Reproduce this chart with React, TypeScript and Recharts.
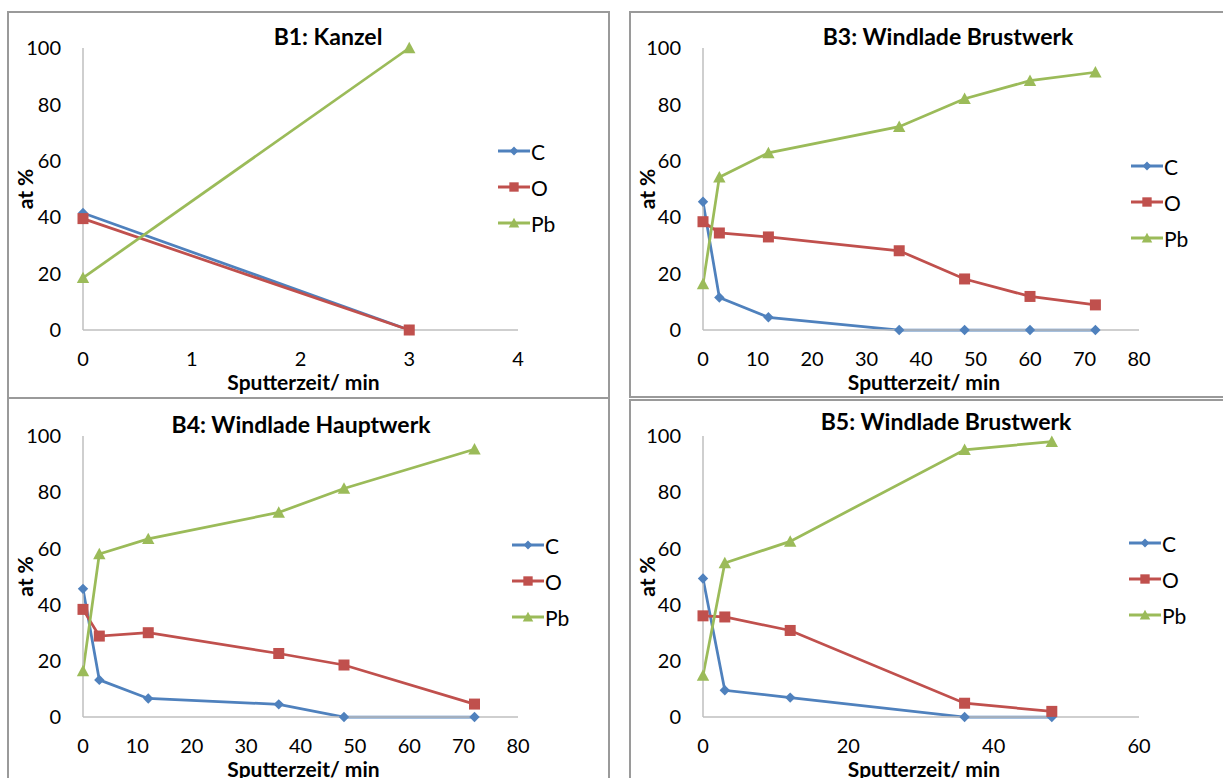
import React from 'react'
import { LineChart, Line, XAxis, YAxis, Legend } from 'recharts'

// B1: Kanzel
const b1Time = [0, 3]
const b1C = [41.5, 0]
const b1O = [39.5, 0]
const b1Pb = [18.5, 100]

// B3: Windlade Brustwerk
const b3Time = [0, 3, 12, 36, 48, 60, 72]
const b3C = [45.5, 11.5, 4.5, 0, 0, 0, 0]
const b3O = [38.4, 34.4, 33, 28.1, 18.1, 11.9, 8.9]
const b3Pb = [16.3, 54.2, 62.8, 72.1, 82, 88.4, 91.4]

// B4: Windlade Hauptwerk
const b4Time = [0, 3, 12, 36, 48, 72]
const b4C = [45.6, 13.2, 6.6, 4.5, 0, 0]
const b4O = [38.3, 28.8, 30, 22.6, 18.5, 4.6]
const b4Pb = [16.4, 58, 63.4, 72.8, 81.3, 95.3]

// B5: Windlade Brustwerk
const b5Time = [0, 3, 12, 36, 48]
const b5C = [49.3, 9.5, 6.9, 0, 0]
const b5O = [36, 35.6, 30.8, 4.9, 2]
const b5Pb = [14.8, 54.8, 62.5, 95.1, 98]

const yTicks = [0, 20, 40, 60, 80, 100]
const xTicks4 = [0, 1, 2, 3, 4]
const xTicks80 = [0, 10, 20, 30, 40, 50, 60, 70, 80]
const xTicks60 = [0, 20, 40, 60]

const colors: Record<string, string> = { C: '#4F81BD', O: '#C0504D', Pb: '#9BBB59' }
const font = 'Lato, "Open Sans", sans-serif'
const axisGray = '#bfbfbf'

function Marker({ kind, cx, cy, s = 1 }: { kind: string; cx: number; cy: number; s?: number }) {
  const fill = colors[kind]
  if (kind === 'C') {
    const r = 5.2 * s
    return <path d={`M${cx},${cy - r}L${cx + r},${cy}L${cx},${cy + r}L${cx - r},${cy}Z`} fill={fill} />
  }
  if (kind === 'O') {
    const h = 5.5 * s
    return <rect x={cx - h} y={cy - h} width={h * 2} height={h * 2} fill={fill} />
  }
  const h = 6.2 * s
  return <path d={`M${cx},${cy - h}L${cx + h},${cy + h * 0.85}L${cx - h},${cy + h * 0.85}Z`} fill={fill} />
}

function LegendBox({ payload }: any) {
  return (
    <div style={{ fontFamily: font, fontSize: 21, color: '#000' }}>
      {(payload || []).map((p: any) => (
        <div key={p.value} style={{ display: 'flex', alignItems: 'center', height: 36 }}>
          <svg width={32} height={16}>
            <line x1={0} y1={8} x2={32} y2={8} stroke={colors[p.value]} strokeWidth={3} />
            <Marker kind={p.value} cx={16} cy={8} s={0.85} />
          </svg>
          <span style={{ marginLeft: 1 }}>{p.value}</span>
        </div>
      ))}
    </div>
  )
}

interface PanelProps {
  title: string
  time: number[]
  c: number[]
  o: number[]
  pb: number[]
  xMax: number
  xTicks: number[]
  left: number
  top: number
  width: number
  height: number
  yAxisWidth: number
  margin: { top: number; right: number; bottom: number; left: number }
  legendPos: { left: number; top: number }
  titlePos: { x: number; y: number }
}

function Panel(p: PanelProps) {
  const data = p.time.map((t, i) => ({ t, C: p.c[i], O: p.o[i], Pb: p.pb[i] }))
  const tick = { fontSize: 20, fill: '#000', fontFamily: font }
  return (
    <>
      <div
        style={{
          position: 'absolute',
          left: p.titlePos.x - 250,
          top: p.titlePos.y - 14,
          width: 500,
          textAlign: 'center',
          fontFamily: font,
          fontWeight: 700,
          fontSize: 23,
          lineHeight: '27px',
          color: '#000',
        }}
      >
        {p.title}
      </div>
      <div style={{ position: 'absolute', left: p.left, top: p.top }}>
        <LineChart width={p.width} height={p.height} data={data} margin={p.margin}>
          <XAxis
            type="number"
            dataKey="t"
            domain={[0, p.xMax]}
            ticks={p.xTicks}
            interval={0}
            tick={tick}
            tickLine={false}
            tickSize={0}
            tickMargin={22}
            height={60}
            axisLine={{ stroke: axisGray, strokeWidth: 1.5 }}
            label={{
              value: 'Sputterzeit/ min',
              position: 'insideBottom',
              offset: 0,
              dx: 3,
              style: { fontFamily: font, fontWeight: 700, fontSize: 21, fill: '#000' },
            }}
          />
          <YAxis
            type="number"
            domain={[0, 100]}
            ticks={yTicks}
            interval={0}
            width={p.yAxisWidth}
            tick={tick}
            tickLine={false}
            tickSize={0}
            tickMargin={22}
            axisLine={{ stroke: axisGray, strokeWidth: 1.5 }}
            label={{
              value: 'at %',
              angle: -90,
              position: 'insideLeft',
              offset: 19,
              style: { fontFamily: font, fontWeight: 700, fontSize: 21, fill: '#000', textAnchor: 'middle' },
            }}
          />
          <Legend
            layout="vertical"
            align="center"
            verticalAlign="middle"
            content={<LegendBox />}
            wrapperStyle={{ left: p.legendPos.left, top: p.legendPos.top, width: 80 }}
          />
          {['C', 'O', 'Pb'].map((k) => (
            <Line
              key={k}
              type="linear"
              dataKey={k}
              name={k}
              stroke={colors[k]}
              strokeWidth={2.75}
              activeDot={false}
              isAnimationActive={false}
              dot={(d: any) => <Marker key={`${k}-${d.index}`} kind={k} cx={d.cx} cy={d.cy} />}
            />
          ))}
        </LineChart>
      </div>
    </>
  )
}

const borderBox = (left: number, top: number, width: number, height: number) => (
  <div
    style={{
      position: 'absolute',
      left,
      top,
      width,
      height,
      border: '2px solid #9a9a9a',
      boxSizing: 'border-box',
    }}
  />
)

export default function App() {
  return (
    <div
      style={{
        position: 'absolute',
        left: 0,
        top: 0,
        width: 1223,
        height: 778,
        overflow: 'hidden',
        background: '#fff',
        fontFamily: font,
      }}
    >
      {borderBox(7, 11, 603, 388)}
      {borderBox(7, 397, 603, 400)}
      {borderBox(629, 11, 600, 387)}
      {borderBox(629, 399, 600, 400)}

      <Panel
        title="B1: Kanzel"
        time={b1Time}
        c={b1C}
        o={b1O}
        pb={b1Pb}
        xMax={4}
        xTicks={xTicks4}
        left={7}
        top={11}
        width={602}
        height={387}
        yAxisWidth={76}
        margin={{ top: 37, right: 91, bottom: 8, left: 0 }}
        legendPos={{ left: 491, top: 122 }}
        titlePos={{ x: 328, y: 37 }}
      />
      <Panel
        title="B3: Windlade Brustwerk"
        time={b3Time}
        c={b3C}
        o={b3O}
        pb={b3Pb}
        xMax={80}
        xTicks={xTicks80}
        left={629}
        top={11}
        width={594}
        height={386}
        yAxisWidth={74}
        margin={{ top: 37, right: 84, bottom: 7, left: 0 }}
        legendPos={{ left: 502, top: 137 }}
        titlePos={{ x: 948, y: 37 }}
      />
      <Panel
        title="B4: Windlade Hauptwerk"
        time={b4Time}
        c={b4C}
        o={b4O}
        pb={b4Pb}
        xMax={80}
        xTicks={xTicks80}
        left={7}
        top={398}
        width={602}
        height={380}
        yAxisWidth={76}
        margin={{ top: 38, right: 91, bottom: 1, left: 0 }}
        legendPos={{ left: 505, top: 129 }}
        titlePos={{ x: 301, y: 425 }}
      />
      <Panel
        title="B5: Windlade Brustwerk"
        time={b5Time}
        c={b5C}
        o={b5O}
        pb={b5Pb}
        xMax={60}
        xTicks={xTicks60}
        left={629}
        top={399}
        width={594}
        height={379}
        yAxisWidth={74}
        margin={{ top: 37, right: 84, bottom: 1, left: 0 }}
        legendPos={{ left: 500, top: 126 }}
        titlePos={{ x: 946, y: 422 }}
      />
    </div>
  )
}
